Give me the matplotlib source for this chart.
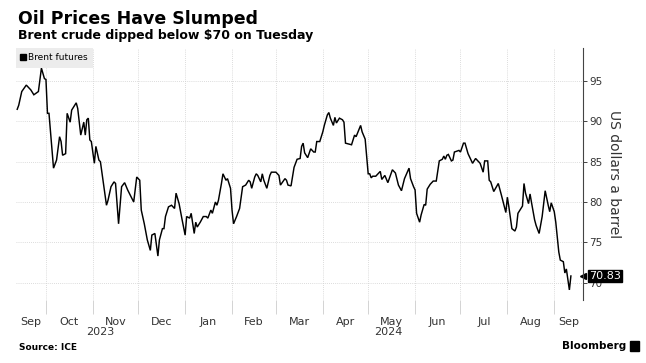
import matplotlib
matplotlib.use("Agg")
import matplotlib.pyplot as plt
import matplotlib.transforms as mtrans
from matplotlib.patches import Rectangle
from matplotlib.lines import Line2D
import pandas as pd

# Brent futures, USD a barrel
dates = [
    "2023-09-12", "2023-09-13", "2023-09-15", "2023-09-18", "2023-09-21", "2023-09-23",
    "2023-09-26", "2023-09-28", "2023-09-30", "2023-10-01", "2023-10-02", "2023-10-03",
    "2023-10-05", "2023-10-06", "2023-10-08", "2023-10-10", "2023-10-11", "2023-10-12",
    "2023-10-14", "2023-10-15", "2023-10-17", "2023-10-18", "2023-10-21", "2023-10-22",
    "2023-10-24", "2023-10-26", "2023-10-27", "2023-10-28", "2023-10-29", "2023-10-30",
    "2023-10-31", "2023-11-02", "2023-11-03", "2023-11-05", "2023-11-06", "2023-11-08",
    "2023-11-10", "2023-11-11", "2023-11-13", "2023-11-15", "2023-11-16", "2023-11-18",
    "2023-11-20", "2023-11-22", "2023-11-24", "2023-11-28", "2023-11-30", "2023-12-02",
    "2023-12-03", "2023-12-05", "2023-12-07", "2023-12-09", "2023-12-10", "2023-12-12",
    "2023-12-14", "2023-12-15", "2023-12-17", "2023-12-18", "2023-12-19", "2023-12-21",
    "2023-12-23", "2023-12-25", "2023-12-26", "2023-12-28", "2023-12-30", "2024-01-01",
    "2024-01-02", "2024-01-04", "2024-01-05", "2024-01-07", "2024-01-08", "2024-01-09",
    "2024-01-11", "2024-01-13", "2024-01-15", "2024-01-16", "2024-01-18", "2024-01-19",
    "2024-01-21", "2024-01-22", "2024-01-23", "2024-01-25", "2024-01-26", "2024-01-28",
    "2024-01-29", "2024-01-31", "2024-02-01", "2024-02-02", "2024-02-04", "2024-02-06",
    "2024-02-08", "2024-02-10", "2024-02-12", "2024-02-13", "2024-02-14", "2024-02-16",
    "2024-02-17", "2024-02-18", "2024-02-20", "2024-02-21", "2024-02-22", "2024-02-24",
    "2024-02-26", "2024-02-27", "2024-03-01", "2024-03-03", "2024-03-04", "2024-03-07",
    "2024-03-08", "2024-03-09", "2024-03-11", "2024-03-13", "2024-03-15", "2024-03-17",
    "2024-03-18", "2024-03-19", "2024-03-20", "2024-03-22", "2024-03-24", "2024-03-26",
    "2024-03-27", "2024-03-28", "2024-03-30", "2024-04-01", "2024-04-02", "2024-04-04",
    "2024-04-05", "2024-04-06", "2024-04-08", "2024-04-09", "2024-04-10", "2024-04-12",
    "2024-04-14", "2024-04-15", "2024-04-16", "2024-04-18", "2024-04-20", "2024-04-22",
    "2024-04-23", "2024-04-26", "2024-04-27", "2024-04-29", "2024-05-01", "2024-05-02",
    "2024-05-03", "2024-05-04", "2024-05-06", "2024-05-09", "2024-05-10", "2024-05-12",
    "2024-05-14", "2024-05-17", "2024-05-19", "2024-05-21", "2024-05-23", "2024-05-25",
    "2024-05-28", "2024-05-29", "2024-05-31", "2024-06-01", "2024-06-02", "2024-06-04",
    "2024-06-05", "2024-06-07", "2024-06-08", "2024-06-09", "2024-06-11", "2024-06-13",
    "2024-06-15", "2024-06-17", "2024-06-19", "2024-06-20", "2024-06-21", "2024-06-22",
    "2024-06-23", "2024-06-25", "2024-06-26", "2024-06-27", "2024-06-30", "2024-07-01",
    "2024-07-03", "2024-07-04", "2024-07-06", "2024-07-09", "2024-07-11", "2024-07-14",
    "2024-07-16", "2024-07-17", "2024-07-19", "2024-07-20", "2024-07-21", "2024-07-23",
    "2024-07-26", "2024-07-28", "2024-07-31", "2024-08-01", "2024-08-02", "2024-08-04",
    "2024-08-06", "2024-08-07", "2024-08-08", "2024-08-11", "2024-08-12", "2024-08-13",
    "2024-08-15", "2024-08-16", "2024-08-17", "2024-08-19", "2024-08-20", "2024-08-22",
    "2024-08-24", "2024-08-26", "2024-08-28", "2024-08-29", "2024-08-30", "2024-09-01",
    "2024-09-02", "2024-09-04", "2024-09-05", "2024-09-07", "2024-09-08", "2024-09-09",
    "2024-09-11", "2024-09-12",
]
brent = [
    91.5, 92.0, 93.7, 94.5, 93.9, 93.3,
    93.7, 96.6, 95.3, 95.2, 91.0, 91.0,
    86.4, 84.2, 85.2, 88.1, 87.5, 85.8,
    86.0, 91.0, 89.9, 91.4, 92.3, 91.6,
    88.3, 89.9, 88.3, 90.2, 90.4, 87.7,
    87.5, 84.8, 86.9, 85.2, 85.0, 82.3,
    79.6, 80.2, 81.9, 82.5, 82.3, 77.3,
    81.9, 82.4, 81.5, 80.0, 83.1, 82.7,
    79.0, 77.3, 75.3, 74.0, 75.9, 76.1,
    73.3, 75.3, 76.7, 76.7, 78.2, 79.4,
    79.6, 79.2, 81.1, 79.8, 77.8, 75.9,
    78.2, 78.0, 78.6, 76.1, 77.5, 76.9,
    77.5, 78.2, 78.2, 78.0, 79.0, 78.6,
    80.0, 79.6, 80.2, 82.3, 83.5, 82.7,
    82.9, 81.7, 79.0, 77.3, 78.2, 79.2,
    81.9, 82.1, 82.7, 82.5, 81.7, 83.1,
    83.5, 83.3, 82.5, 83.5, 82.7, 81.7,
    83.3, 83.7, 83.7, 83.3, 82.1, 82.9,
    82.7, 82.1, 82.0, 84.3, 85.3, 85.4,
    86.9, 87.3, 86.1, 85.5, 86.6, 86.2,
    86.2, 87.5, 87.5, 88.7, 89.5, 90.8,
    91.1, 90.4, 89.5, 90.5, 89.8, 90.4,
    90.2, 89.9, 87.3, 87.2, 87.1, 88.3,
    88.1, 89.5, 88.7, 87.8, 83.5, 83.5,
    83.0, 83.2, 83.2, 83.8, 82.8, 83.3,
    82.4, 84.0, 83.6, 82.1, 81.4, 82.9,
    84.2, 82.9, 81.9, 81.5, 78.6, 77.5,
    78.4, 79.7, 79.6, 81.6, 82.2, 82.6,
    82.6, 85.1, 85.3, 85.7, 85.3, 85.8,
    85.9, 85.1, 85.2, 86.2, 86.4, 86.2,
    87.3, 87.3, 86.0, 84.8, 85.4, 84.8,
    83.7, 85.1, 85.1, 82.7, 82.5, 81.3,
    82.3, 80.9, 78.7, 80.6, 79.4, 76.7,
    76.4, 76.9, 78.6, 79.5, 82.3, 81.1,
    79.8, 81.0, 79.9, 77.8, 77.1, 76.1,
    78.2, 81.4, 79.6, 78.8, 79.9, 78.8,
    77.5, 73.8, 72.8, 72.6, 71.2, 71.7,
    69.1, 70.83,
]
month_labels = ["Sep", "Oct", "Nov", "Dec", "Jan", "Feb", "Mar", "Apr",
                "May", "Jun", "Jul", "Aug", "Sep"]
year_labels = {"2023": "2023-11-06", "2024": "2024-05-14"}
y_ticks = [70, 75, 80, 85, 90, 95]
last_value = 70.83

x = pd.to_datetime(dates)
x_lo, x_hi = pd.Timestamp("2023-09-11"), pd.Timestamp("2024-09-20")

W, H = 646, 363
fig = plt.figure(figsize=(W / 100, H / 100), dpi=100)
ax = fig.add_axes([15.7 / W, 1 - 300 / H, (583 - 15.7) / W, 252 / H])

ax.plot(x, brent, color="black", lw=1.05, solid_joinstyle="miter")
ax.set_xlim(x_lo, x_hi)
ax.set_ylim(67.85, 99.1)

# axes / grid
for s in ["top", "left", "bottom"]:
    ax.spines[s].set_visible(False)
ax.spines["right"].set_color("#444444")
ax.spines["right"].set_linewidth(0.8)
ax.yaxis.tick_right()
ax.set_yticks(y_ticks)
ax.tick_params(axis="y", length=3, width=0.7, color="#444444", pad=1.5,
               labelsize=7.5, labelcolor="#333333")
ax.yaxis.set_label_position("right")
ax.set_ylabel("US dollars a barrel", fontsize=10, rotation=270, labelpad=13,
              color="#333333")

month_starts = pd.date_range("2023-10-01", "2024-09-01", freq="MS")
ax.set_xticks(month_starts)
ax.tick_params(axis="x", which="major", length=10, width=0.6, color="#cccccc",
               labelbottom=False)
edges = [x_lo] + list(month_starts) + [x_hi]
mids = [a + (b - a) / 2 for a, b in zip(edges[:-1], edges[1:])]
ax.set_xticks(mids, minor=True)
ax.set_xticklabels(month_labels, minor=True)
ax.tick_params(axis="x", which="minor", length=0, pad=12, labelsize=8,
               labelcolor="#333333")

ax.grid(True, which="major", color="#d0d0d0", lw=0.6, ls=(0, (1, 1.5)))
ax.set_axisbelow(True)

tr = mtrans.blended_transform_factory(ax.transData, fig.transFigure)
for yr, d in year_labels.items():
    ax.text(pd.Timestamp(d), 1 - 332 / H, yr, transform=tr, ha="center",
            va="center", fontsize=8, color="#333333")

# legend
handle = Line2D([], [], color="black", marker="s", ls="none", markersize=4.2)
leg = ax.legend([handle], ["Brent futures"], loc="upper left",
                bbox_to_anchor=(0, 1), borderaxespad=0, fontsize=6.5,
                frameon=True, fancybox=False, facecolor="#ececec",
                edgecolor="none", framealpha=1, handlelength=0.5,
                handletextpad=0.3, borderpad=0.6)

# last value tag
ax.plot([x_hi], [last_value], marker="<", color="black", markersize=5,
        clip_on=False)
ax.annotate(f"{last_value:.2f}", xy=(1, last_value),
            xycoords=("axes fraction", "data"), xytext=(4.5, 0),
            textcoords="offset points", ha="left", va="center",
            color="white", fontsize=8,
            bbox=dict(boxstyle="square,pad=0.12", fc="black", ec="black"))

# titles and footer
fig.text(18 / W, 1 - 24 / H, "Oil Prices Have Slumped", fontsize=12.5,
         fontweight="bold", va="baseline", ha="left")
fig.text(18 / W, 1 - 39.5 / H, "Brent crude dipped below $70 on Tuesday",
         fontsize=9, fontweight="bold", va="baseline", ha="left")
fig.text(19 / W, 1 - 347 / H, "Source: ICE", fontsize=6.5, fontweight="bold",
         va="center", ha="left")
fig.text(626 / W, 1 - 346 / H, "Bloomberg", fontsize=7.5, fontweight="bold",
         va="center", ha="right")
fig.patches.append(Rectangle((630 / W, 1 - 351 / H), 9 / W, 10 / H,
                             transform=fig.transFigure, color="black"))

fig.savefig("out.png", dpi=100)
